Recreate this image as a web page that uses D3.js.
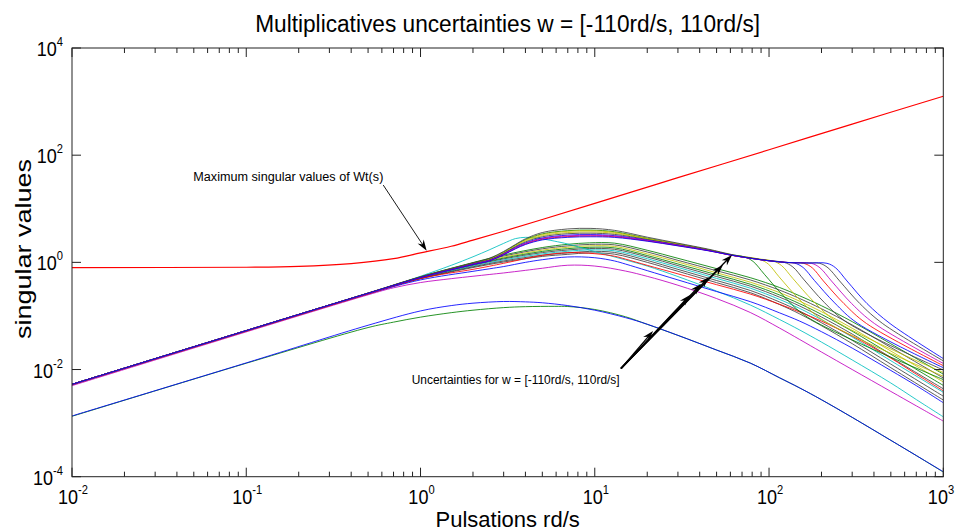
<!DOCTYPE html>
<html><head><meta charset="utf-8">
<script src="https://cdn.jsdelivr.net/npm/d3@7"></script>
<style>body{margin:0;background:#fff}svg{display:block}text{font-family:Arial,"Liberation Sans",sans-serif;fill:#000}</style>
</head><body><svg id="c" width="955" height="532"></svg>
<script>
// ---------- texts / ticks ----------
const titleText = "Multiplicatives uncertainties w = [-110rd/s, 110rd/s]";
const xLabelText = "Pulsations rd/s";
const yLabelText = "singular values";
const noteWt = "Maximum singular values of Wt(s)";
const noteUnc = "Uncertainties for w = [-110rd/s, 110rd/s]";
const xTickExp = [-2, -1, 0, 1, 2, 3];
const yTickExp = [-4, -2, 0, 2, 4];

// ---------- data: [pulsation rd/s, singular value] ----------
const wtMax = [[0.01,0.80],[0.1,0.81],[0.2,0.84],[0.4,0.95],[0.7,1.17],[1,1.5],[1.5,2.0],[2,2.6],[3,3.8],[5,6.3],[10,12.6],[30,38],[100,126],[300,380],[1000,1260]];

// lower pair
const lowBlue = [[0.01,0.00136],[0.1,0.0133],[0.5,0.067],[1,0.124],[1.5,0.156],[2,0.173],[3,0.186],[4,0.183],[5,0.176],[7,0.156],[10,0.128],[15,0.093],[20,0.070],[30,0.0434],[50,0.0231],[78,0.0132],[115,0.0070],[150,0.00453],[200,0.00273],[300,0.00128],[500,0.000477],[700,0.000248],[1000,0.000124]];
const lowGreen = [[0.01,0.00134],[0.1,0.0131],[0.5,0.0607],[0.7,0.0766],[1,0.095],[1.5,0.115],[2,0.128],[3,0.143],[4,0.149],[5.9,0.151],[7,0.150],[10,0.132],[15,0.0966],[20,0.0697],[30,0.0434],[50,0.0231],[78,0.0132],[115,0.0070],[150,0.00453],[200,0.00273],[300,0.00128],[500,0.000477],[700,0.000248],[1000,0.000122]];

// individual upper curves
const indRed = [[0.01,0.0052],[0.5,0.257],[1,0.50],[2,0.74],[2.5,0.85],[3,0.96],[4,1.17],[5,1.35],[7,1.52],[10,1.45],[13,1.30],[15,1.15],[20,0.88],[30,0.61],[50,0.383],[78,0.256],[115,0.165],[150,0.118],[200,0.080],[300,0.042],[500,0.0163],[700,0.0082],[1000,0.0040]];
const indBlue = [[0.01,0.0052],[0.5,0.257],[1,0.47],[2,0.68],[2.5,0.76],[3,0.835],[4,1.0],[5,1.12],[7,1.26],[10,1.22],[13,1.06],[15,0.93],[20,0.70],[30,0.47],[50,0.285],[78,0.185],[115,0.114],[150,0.080],[200,0.0508],[300,0.0251],[500,0.0096],[700,0.0050],[1000,0.0024]];
const indCyan = [[0.01,0.0053],[0.5,0.263],[0.7,0.37],[1,0.55],[1.5,0.88],[2,1.27],[2.5,1.73],[3,2.26],[3.5,2.77],[4,2.93],[4.5,2.87],[5,2.74],[7,2.2],[10,1.59],[15,1.11],[20,0.853],[30,0.543],[50,0.291],[78,0.16],[115,0.0857],[150,0.0546],[200,0.0325],[300,0.0151],[500,0.0056],[700,0.00275],[1000,0.00131]];
const indMagenta = [[0.01,0.005],[0.5,0.248],[0.7,0.335],[1,0.42],[1.5,0.496],[2,0.55],[2.5,0.595],[3,0.634],[4,0.709],[5,0.776],[7,0.883],[10,0.853],[15,0.688],[20,0.548],[30,0.374],[50,0.211],[78,0.116],[115,0.0593],[150,0.0363],[200,0.0212],[300,0.01],[500,0.0039],[700,0.0021],[1000,0.00109]];

// middle bundle
const midA = [[0.01,0.0053],[0.5,0.263],[1,0.537],[2,0.991],[3,1.37],[5,1.89],[7,2.17],[9.3,2.31],[13,2.28],[20,1.68],[30,1.19],[50,0.763],[78,0.518],[115,0.339],[150,0.237],[200,0.155],[300,0.0783],[500,0.0302],[1000,0.0082]];
const midB = [[0.01,0.0053],[0.5,0.263],[1,0.531],[2,0.96],[3,1.31],[5,1.79],[7,2.03],[9.3,2.16],[13,2.12],[20,1.56],[30,1.09],[50,0.697],[78,0.47],[115,0.303],[150,0.211],[200,0.136],[300,0.0679],[500,0.0258],[1000,0.00695]];
const midC = [[0.01,0.0053],[0.5,0.263],[1,0.524],[2,0.929],[3,1.25],[5,1.69],[7,1.91],[9.3,2.03],[13,1.98],[20,1.44],[30,1.015],[50,0.637],[78,0.427],[115,0.272],[150,0.188],[200,0.12],[300,0.0589],[500,0.0221],[1000,0.00588]];
const midD = [[0.01,0.0053],[0.5,0.263],[1,0.518],[2,0.903],[3,1.2],[5,1.6],[7,1.8],[9.3,1.91],[13,1.86],[20,1.34],[30,0.933],[50,0.588],[78,0.391],[115,0.246],[150,0.169],[200,0.107],[300,0.0519],[500,0.0193],[1000,0.00505]];
const midE = [[0.01,0.0053],[0.5,0.263],[1,0.512],[2,0.878],[3,1.16],[5,1.52],[7,1.7],[9.3,1.81],[13,1.75],[20,1.26],[30,0.868],[50,0.543],[78,0.36],[115,0.224],[150,0.153],[200,0.0955],[300,0.0459],[500,0.0168],[1000,0.00437]];
const midF = [[0.01,0.0053],[0.5,0.263],[1,0.506],[2,0.852],[3,1.11],[5,1.44],[7,1.61],[9.3,1.71],[13,1.64],[20,1.17],[30,0.805],[50,0.501],[78,0.33],[115,0.203],[150,0.138],[200,0.0851],[300,0.0404],[500,0.0146],[1000,0.00376]];
const midG = [[0.01,0.0053],[0.5,0.263],[1,0.5],[2,0.825],[3,1.06],[5,1.36],[7,1.5],[9.3,1.6],[13,1.53],[20,1.085],[30,0.74],[50,0.458],[78,0.299],[115,0.182],[150,0.123],[200,0.0747],[300,0.035],[500,0.0126],[1000,0.00318]];
const midH = [[0.01,0.0053],[0.5,0.263],[1,0.493],[2,0.8],[3,1.015],[5,1.29],[7,1.41],[9.3,1.5],[13,1.42],[20,1.0],[30,0.681],[50,0.418],[78,0.272],[115,0.163],[150,0.109],[200,0.0657],[300,0.0304],[500,0.0108],[1000,0.0027]];

// top (resonant) group
const top1 = [[0.01,0.0053],[0.5,0.265],[1,0.52],[2,0.91],[2.5,1.07],[3,1.38],[3.5,1.78],[4,2.15],[5,2.62],[7,2.93],[9.5,3.0],[13,2.92],[20,2.48],[30,2.03],[45,1.64],[61,1.36],[80,1.18],[100,1.07],[130,0.99],[170,0.97],[215,0.96],[241,0.79],[280,0.45],[365,0.17],[495,0.072],[1000,0.016]];
const top2 = [[0.01,0.0053],[0.5,0.268],[1,0.54],[2,0.98],[2.5,1.2],[3,1.6],[3.5,2.15],[4,2.75],[5,3.6],[7,4.2],[9.5,4.3],[13,3.95],[20,2.95],[30,2.28],[45,1.76],[61,1.4],[80,1.2],[100,1.08],[130,0.99],[160,0.97],[195,0.96],[218,0.79],[254,0.45],[332,0.17],[449,0.072],[1000,0.0145]];
const top3 = [[0.01,0.0053],[0.5,0.265],[1,0.52],[2,0.92],[2.5,1.09],[3,1.42],[3.5,1.85],[4,2.25],[5,2.78],[7,3.12],[9.5,3.2],[13,3.08],[20,2.55],[30,2.08],[45,1.66],[61,1.36],[80,1.18],[100,1.07],[130,0.99],[175,0.96],[196,0.79],[228,0.45],[298,0.17],[403,0.072],[1000,0.013]];
const top4 = [[0.01,0.0053],[0.5,0.265],[1,0.52],[2,0.92],[2.5,1.08],[3,1.4],[3.5,1.82],[4,2.2],[5,2.7],[7,3.02],[9.5,3.1],[13,3.0],[20,2.52],[30,2.05],[45,1.65],[61,1.35],[80,1.18],[100,1.07],[130,0.99],[158,0.96],[177,0.79],[205,0.45],[269,0.17],[363,0.072],[1000,0.0118]];
const top5 = [[0.01,0.0053],[0.5,0.265],[1,0.52],[2,0.93],[2.5,1.1],[3,1.44],[3.5,1.9],[4,2.3],[5,2.85],[7,3.22],[9.5,3.3],[13,3.15],[20,2.6],[30,2.1],[45,1.67],[61,1.36],[80,1.18],[100,1.07],[120,1.0],[140,0.97],[157,0.8],[182,0.46],[238,0.175],[322,0.073],[1000,0.0108]];
const top6 = [[0.01,0.0053],[0.5,0.266],[1,0.53],[2,0.94],[2.5,1.12],[3,1.47],[3.5,1.95],[4,2.4],[5,3.0],[7,3.42],[9.5,3.5],[13,3.32],[20,2.67],[30,2.13],[45,1.68],[61,1.36],[80,1.18],[100,1.07],[122,1.0],[137,0.82],[159,0.47],[207,0.18],[281,0.075],[1000,0.0098]];
const top7 = [[0.01,0.0053],[0.5,0.266],[1,0.53],[2,0.95],[2.5,1.13],[3,1.5],[3.5,2.0],[4,2.5],[5,3.15],[7,3.6],[9.5,3.7],[13,3.48],[20,2.72],[30,2.16],[45,1.7],[61,1.37],[80,1.19],[105,1.06],[118,0.87],[137,0.5],[179,0.19],[242,0.08],[1000,0.0088]];
const top8 = [[0.01,0.0053],[0.5,0.266],[1,0.53],[2,0.96],[2.5,1.15],[3,1.52],[3.5,2.05],[4,2.6],[5,3.3],[7,3.8],[9.5,3.9],[13,3.62],[20,2.78],[30,2.2],[45,1.71],[61,1.37],[88,1.14],[99,0.93],[114,0.54],[150,0.2],[202,0.085],[1000,0.0075]];
const top9 = [[0.01,0.0053],[0.5,0.266],[1,0.53],[2,0.97],[2.5,1.17],[3,1.55],[3.5,2.1],[4,2.65],[5,3.4],[7,3.9],[9.5,4.0],[13,3.72],[20,2.82],[30,2.22],[45,1.72],[61,1.38],[72,1.27],[81,1.04],[94,0.6],[122,0.23],[166,0.095],[1000,0.0065]];

// annotation anchors in data coordinates [w, value]
const wtNoteAt = [0.0497, 32.9];
const wtArrowFrom = [0.611, 27.7];
const wtArrowTo = [1.085, 1.646];
const uncNoteAt = [0.89, 0.00536];
const uncArrowFrom = [14.14, 0.01044];
const uncArrowTips = [[21.6,0.0523],[35.2,0.245],[40.7,0.394],[45.2,0.532],[54.4,0.89],[61.3,1.37]];

// ---------- colours (MATLAB default order) ----------
const C = {b:"#0000ff", g:"#008000", r:"#ff0000", c:"#00bfbf", m:"#bf00bf", y:"#bfbf00", k:"#404040"};
const drawList = [
  [lowGreen, C.g], [lowBlue, C.b],
  [midA, C.g], [midB, C.k], [midC, C.y], [midD, C.g], [midE, C.k], [midF, C.c], [midG, C.k], [midH, C.k],
  [indMagenta, C.m], [indCyan, C.c], [indBlue, C.b], [indRed, C.r],
  [top9, C.g], [top8, C.y], [top7, C.y], [top6, C.k], [top5, C.b], [top4, C.r], [top3, C.m], [top2, C.k], [top1, C.b]
];

// ---------- layout ----------
const svg = d3.select("#c");
const L = 72, R = 943.3, T = 48, B = 476.7;
const x = d3.scaleLog().domain([1e-2, 1e3]).range([L, R]);
const y = d3.scaleLog().domain([1e-4, 1e4]).range([B, T]);

svg.append("rect").attr("width", 955).attr("height", 532).attr("fill", "#fff");
svg.append("defs").append("clipPath").attr("id", "clip")
  .append("rect").attr("x", L).attr("y", T).attr("width", R - L).attr("height", B - T);

const line = d3.line().x(d => x(d[0])).y(d => y(d[1])).curve(d3.curveCatmullRom.alpha(0.5));
const gC = svg.append("g").attr("clip-path", "url(#clip)");
drawList.forEach(([data, col]) => {
  gC.append("path").attr("d", line(data)).attr("fill", "none")
    .attr("stroke", col).attr("stroke-width", 1).attr("stroke-opacity", 0.85);
});
gC.append("path").attr("d", line(wtMax)).attr("fill", "none").attr("stroke", "#ff0000").attr("stroke-width", 1.2);

// ---------- axes box and ticks ----------
const ax = svg.append("g").attr("stroke", "#222").attr("stroke-width", 1).attr("fill", "none");
ax.append("rect").attr("x", L).attr("y", T).attr("width", R - L).attr("height", B - T);
const xTicks = [];
for (let e = -2; e < 3; e++) for (let k = 1; k <= 9; k++) xTicks.push([k * Math.pow(10, e), k === 1]);
xTicks.push([1000, true]);
xTicks.forEach(([v, major]) => {
  const len = major ? 9 : 5, px = x(v);
  ax.append("line").attr("x1", px).attr("x2", px).attr("y1", B).attr("y2", B - len);
  ax.append("line").attr("x1", px).attr("x2", px).attr("y1", T).attr("y2", T + len);
});
yTickExp.forEach(e => {
  const py = y(Math.pow(10, e));
  ax.append("line").attr("x1", L).attr("x2", L + 9).attr("y1", py).attr("y2", py);
  ax.append("line").attr("x1", R).attr("x2", R - 9).attr("y1", py).attr("y2", py);
});

function powLabel(px, py, e, anchor) {
  const t = svg.append("text").attr("transform", `translate(${px},${py}) scale(0.86,1)`)
    .attr("text-anchor", anchor).attr("font-size", 21);
  t.append("tspan").text("10");
  t.append("tspan").attr("font-size", 13).attr("dy", -10).text(String(e));
}
xTickExp.forEach(e => powLabel(Math.min(x(Math.pow(10, e)) + 1, 941), B + 27, e, "middle"));
yTickExp.forEach(e => powLabel(63, y(Math.pow(10, e)) + 8, e, "end"));

// ---------- titles ----------
svg.append("text").attr("x", (L + R) / 2).attr("y", 32).attr("text-anchor", "middle")
  .attr("font-size", 23).attr("textLength", 505).attr("lengthAdjust", "spacingAndGlyphs").text(titleText);
svg.append("text").attr("x", (L + R) / 2).attr("y", 527).attr("text-anchor", "middle")
  .attr("font-size", 22).text(xLabelText);
svg.append("text").attr("transform", "translate(31,249) rotate(-90)").attr("text-anchor", "middle")
  .attr("font-size", 22).attr("textLength", 180).attr("lengthAdjust", "spacingAndGlyphs").text(yLabelText);

// ---------- annotations ----------
svg.append("text").attr("x", x(wtNoteAt[0])).attr("y", y(wtNoteAt[1])).attr("font-size", 12.5)
  .attr("textLength", 190).attr("lengthAdjust", "spacingAndGlyphs").text(noteWt);
svg.append("text").attr("x", x(uncNoteAt[0])).attr("y", y(uncNoteAt[1])).attr("font-size", 12)
  .attr("textLength", 208).attr("lengthAdjust", "spacingAndGlyphs").text(noteUnc);

function arrow(from, to, w) {
  const x1 = x(from[0]), y1 = y(from[1]), x2 = x(to[0]), y2 = y(to[1]);
  const a = Math.atan2(y2 - y1, x2 - x1);
  svg.append("line").attr("x1", x1).attr("y1", y1).attr("x2", x2 - 6 * Math.cos(a)).attr("y2", y2 - 6 * Math.sin(a))
    .attr("stroke", "#000").attr("stroke-width", w);
  svg.append("path").attr("d", "M0,0 L-11,-3.6 L-7.5,0 L-11,3.6 Z")
    .attr("transform", `translate(${x2},${y2}) rotate(${a * 180 / Math.PI})`).attr("fill", "#000");
}
arrow(wtArrowFrom, wtArrowTo, 0.9);
uncArrowTips.forEach(t => arrow(uncArrowFrom, t, 1.3));
</script></body></html>
